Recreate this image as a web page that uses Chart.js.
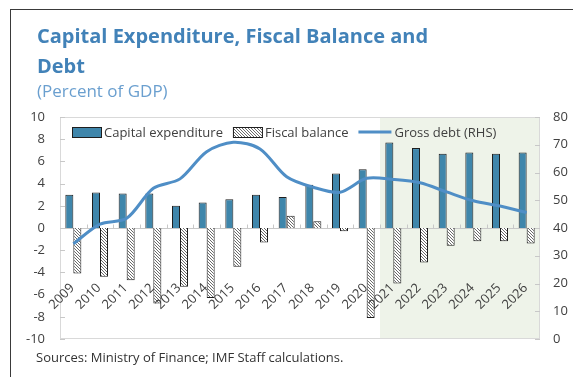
<!DOCTYPE html>
<html>
<head>
<meta charset="utf-8">
<script src="https://cdn.jsdelivr.net/npm/chart.js@4"></script>
<style>
  body { margin: 0; background: #fff; }
  #wrap { position: relative; width: 573px; height: 377px; overflow: hidden; }
  #frame { position: absolute; left: 10px; top: 9px; width: 700px; height: 500px;
           border-top: 1px solid #3a3a3a; border-left: 1px solid #3a3a3a; }
  canvas { position: absolute; left: 0; top: 0; }
</style>
</head>
<body>
<div id="wrap">
  <div id="frame"></div>
  <canvas id="chart" width="573" height="377"></canvas>
</div>
<script>
// data
var years = ['2009', '2010', '2011', '2012', '2013', '2014', '2015', '2016', '2017',
             '2018', '2019', '2020', '2021', '2022', '2023', '2024', '2025', '2026'];
var capex = [3.0, 3.2, 3.1, 3.1, 2.0, 2.3, 2.6, 3.0, 2.8, 3.9, 4.9, 5.3, 7.7, 7.2, 6.7, 6.8, 6.7, 6.8];
var fiscal = [-4.1, -4.4, -4.7, -6.8, -5.3, -6.3, -3.5, -1.3, 1.1, 0.6, -0.3, -8.1, -5.0, -3.1, -1.6, -1.2, -1.2, -1.4];
var debt = [34.3, 41.4, 43.5, 54.3, 57.7, 67.5, 70.9, 68.5, 58.5, 54.7, 52.9, 57.9, 57.5, 56.3, 53.0, 49.8, 47.9, 45.6];
var forecastFrom = '2021';

var titleLines = ['Capital Expenditure, Fiscal Balance and', 'Debt'];
var subtitle = '(Percent of GDP)';
var source = 'Sources: Ministry of Finance; IMF Staff calculations.';

var FONT = '"Open Sans", sans-serif';
var TEXT = '#404040';
var LIGHT = '#d9d9d9';

// diagonal hatch for fiscal balance bars
function hatch() {
    var c = document.createElement('canvas');
    c.width = 3; c.height = 3;
    var g = c.getContext('2d');
    g.fillStyle = '#fff';
    g.fillRect(0, 0, 3, 3);
    g.strokeStyle = '#5a5a5a';
    g.lineWidth = 0.9;
    g.beginPath();
    g.moveTo(-1, -1); g.lineTo(4, 4);
    g.moveTo(-1, 2); g.lineTo(1, 4);
    g.moveTo(2, -1); g.lineTo(4, 1);
    g.stroke();
    return g.createPattern(c, 'repeat');
}

var decor = {
    id: 'decor',
    beforeDatasetsDraw: function(chart) {
        var ctx = chart.ctx, a = chart.chartArea, x = chart.scales.x;
        var yl = chart.scales.y, yr = chart.scales.y1;
        var i = years.indexOf(forecastFrom);
        var xs = (x.getPixelForValue(i - 1) + x.getPixelForValue(i)) / 2;
        ctx.save();
        // forecast shading
        ctx.fillStyle = '#eef3e9';
        ctx.fillRect(xs, a.top, a.right - xs, a.bottom - a.top);
        // plot border
        ctx.strokeStyle = LIGHT;
        ctx.lineWidth = 1;
        ctx.strokeRect(a.left + 0.5, a.top + 0.5, a.right - a.left - 1, a.bottom - a.top - 1);
        // zero line with category ticks
        var y0 = Math.round(yl.getPixelForValue(0)) + 0.5;
        ctx.beginPath();
        ctx.moveTo(a.left, y0); ctx.lineTo(a.right, y0);
        for (var k = 1; k < years.length; k++) {
            var bx = Math.round((x.getPixelForValue(k - 1) + x.getPixelForValue(k)) / 2) + 0.5;
            ctx.moveTo(bx, y0); ctx.lineTo(bx, y0 - 4);
        }
        // inward axis ticks
        yl.ticks.forEach(function(t) {
            var py = Math.round(yl.getPixelForValue(t.value)) + 0.5;
            ctx.moveTo(a.left, py); ctx.lineTo(a.left + 5, py);
        });
        yr.ticks.forEach(function(t) {
            var py = Math.round(yr.getPixelForValue(t.value)) + 0.5;
            ctx.moveTo(a.right - 5, py); ctx.lineTo(a.right, py);
        });
        ctx.strokeStyle = '#c8c8c8';
        ctx.stroke();
        ctx.restore();
    },
    afterDraw: function(chart) {
        var ctx = chart.ctx, x = chart.scales.x;
        ctx.save();

        // year labels, rotated
        ctx.font = '13px ' + FONT;
        ctx.fillStyle = TEXT;
        ctx.textAlign = 'right';
        ctx.textBaseline = 'middle';
        years.forEach(function(yr, i) {
            ctx.save();
            ctx.translate(x.getPixelForValue(i) - 1, 286);
            ctx.rotate(-Math.PI / 4);
            ctx.fillText(yr, 0, 0);
            ctx.restore();
        });

        // legend
        ctx.textAlign = 'left';
        var lx = 72, ly = 132;
        chart.data.datasets.forEach(function(ds) {
            var w;
            if (ds.type === 'line') {
                w = 33;
                ctx.strokeStyle = ds.borderColor;
                ctx.lineWidth = ds.borderWidth;
                ctx.beginPath();
                ctx.moveTo(lx, ly); ctx.lineTo(lx + w, ly);
                ctx.stroke();
            } else {
                w = 29;
                ctx.fillStyle = ds.backgroundColor;
                ctx.fillRect(lx, ly - 5, w, 10);
                ctx.strokeStyle = ds.borderColor;
                ctx.lineWidth = 1;
                ctx.strokeRect(lx + 0.5, ly - 4.5, w, 10);
            }
            ctx.fillStyle = TEXT;
            ctx.fillText(ds.label, lx + w + 3, ly + 1);
            lx += w + 3 + ctx.measureText(ds.label).width + 10;
        });

        // titles and source
        ctx.textBaseline = 'alphabetic';
        ctx.fillStyle = '#4282b8';
        ctx.font = 'bold 20px ' + FONT;
        ctx.fillText(titleLines[0], 37, 43);
        ctx.fillText(titleLines[1], 37, 73);
        ctx.fillStyle = '#6a9fcf';
        ctx.font = '17px ' + FONT;
        ctx.fillText(subtitle, 37, 97);
        ctx.fillStyle = '#333';
        ctx.font = '13px ' + FONT;
        ctx.fillText(source, 36, 362);
        ctx.restore();
    }
};

new Chart(document.getElementById('chart'), {
    data: {
        labels: years,
        datasets: [
            { type: 'bar', label: 'Capital expenditure', data: capex, yAxisID: 'y',
              backgroundColor: '#3f86ab', borderColor: '#1e1e1e', borderWidth: 1,
              categoryPercentage: 0.6, barPercentage: 1.0, order: 1 },
            { type: 'bar', label: 'Fiscal balance', data: fiscal, yAxisID: 'y',
              backgroundColor: hatch(), borderColor: '#1e1e1e', borderWidth: 1,
              categoryPercentage: 0.6, barPercentage: 1.0, order: 1 },
            { type: 'line', label: 'Gross debt (RHS)', data: debt, yAxisID: 'y1',
              borderColor: '#4f8ec6', borderWidth: 3, pointRadius: 0,
              tension: 0.3, order: 0 }
        ]
    },
    options: {
        responsive: false,
        animation: false,
        devicePixelRatio: 1,
        layout: { padding: { left: 0, right: 0, top: 117, bottom: 38 } },
        plugins: { legend: { display: false }, tooltip: { enabled: false } },
        scales: {
            x: { display: false, offset: true },
            y: {
                position: 'left', min: -10, max: 10,
                grid: { display: false, drawTicks: false }, border: { display: false },
                ticks: { stepSize: 2, padding: 15, color: TEXT, font: { family: FONT, size: 13 } },
                afterFit: function(s) { s.width = 60; }
            },
            y1: {
                position: 'right', min: 0, max: 80,
                grid: { display: false, drawTicks: false }, border: { display: false },
                ticks: { stepSize: 10, padding: 13, color: TEXT, font: { family: FONT, size: 13 } },
                afterFit: function(s) { s.width = 33; }
            }
        }
    },
    plugins: [decor]
});
</script>
</body>
</html>
